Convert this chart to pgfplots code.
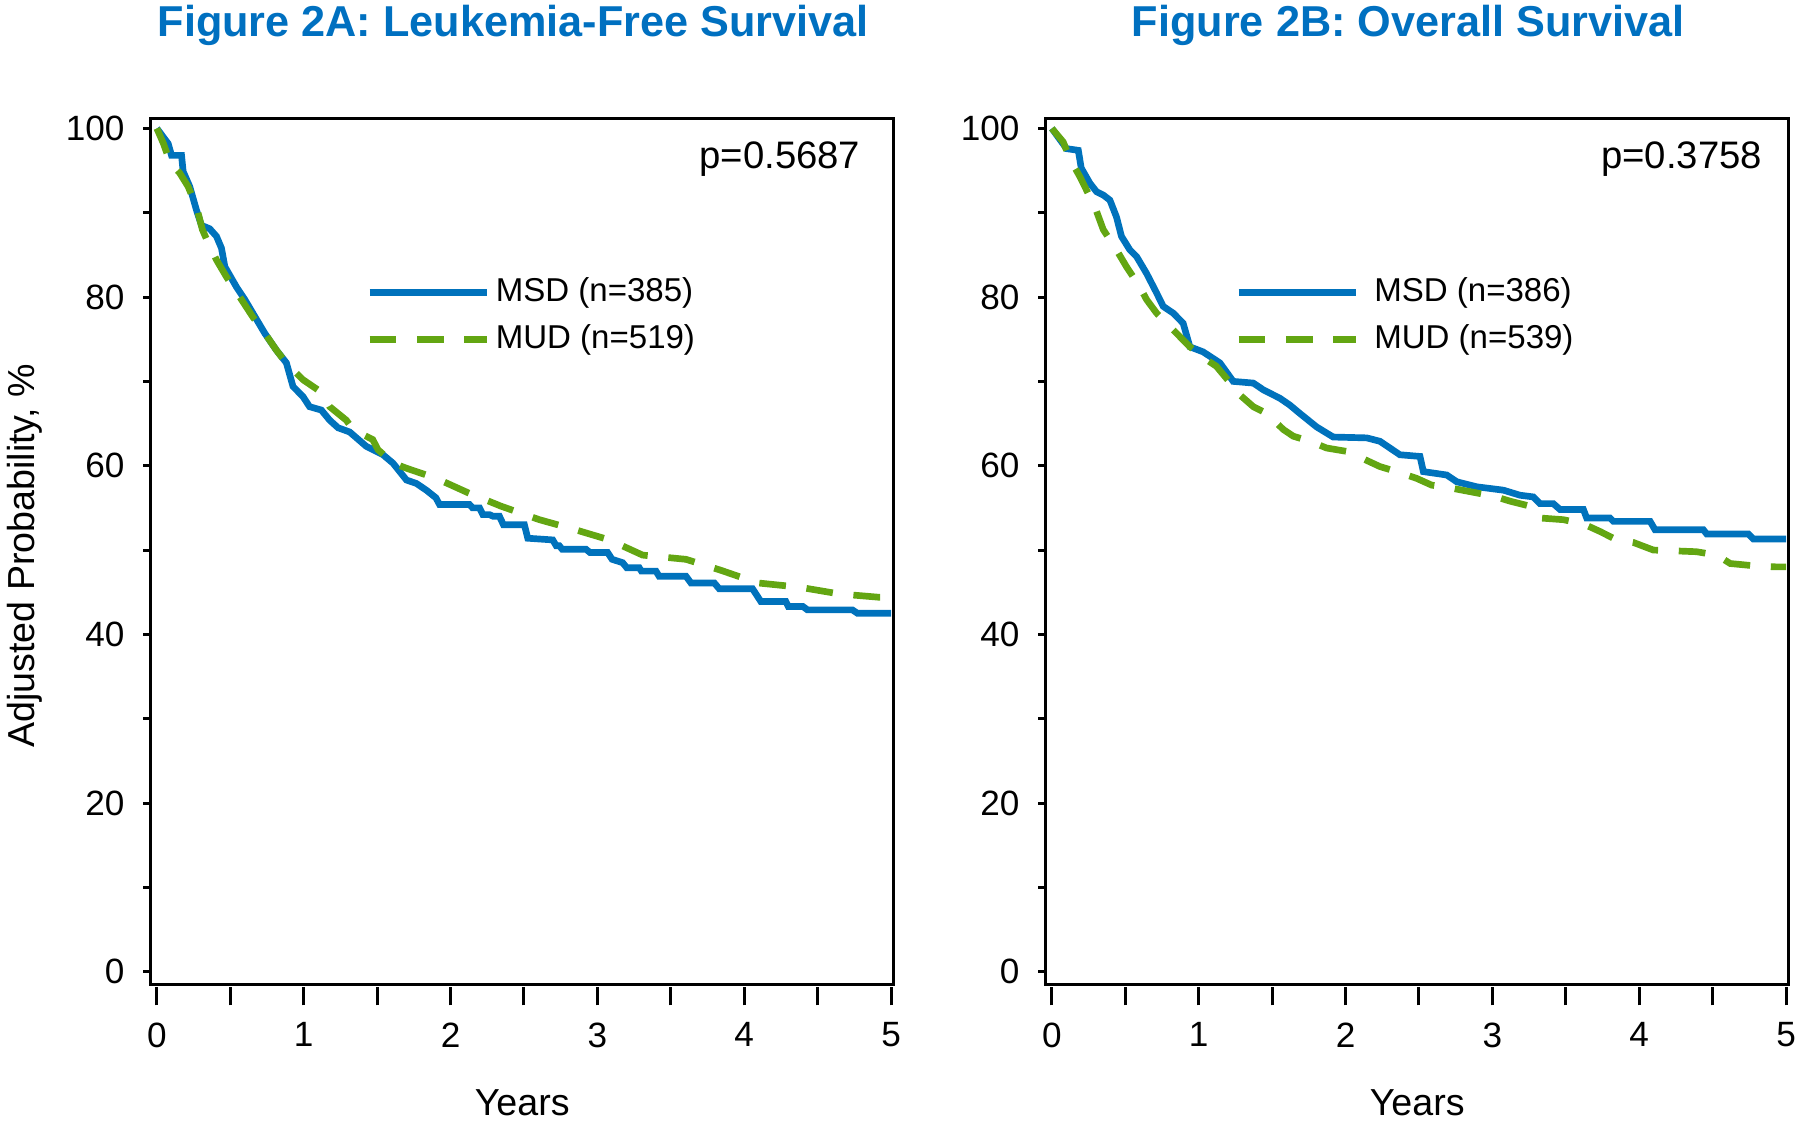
\documentclass[border=0pt]{standalone}
\usepackage{pgfplots}
\usepackage{pgfplotstable}
\pgfplotsset{compat=1.18}
\usepackage{fontspec}
\setmainfont{Liberation Sans}

\definecolor{msdblue}{RGB}{0,114,188}
\definecolor{mudgreen}{RGB}{99,166,18}
\definecolor{titleblue}{RGB}{0,112,192}

% Figure 2A, leukemia-free survival (years, adjusted %)
\pgfplotstableread{
t v
0 100
0.077 98.2
0.1 96.8
0.168 96.8
0.179 94.9
0.224 93.1
0.27 90.3
0.304 88.5
0.36 88.1
0.406 87.2
0.44 85.8
0.463 83.6
0.542 81.2
0.599 79.7
0.667 77.7
0.735 75.7
0.814 73.7
0.882 72.2
0.927 69.4
0.995 68.2
1.04 67.0
1.12 66.6
1.177 65.4
1.234 64.5
1.313 64.0
1.426 62.3
1.54 61.3
1.608 60.3
1.70 58.3
1.767 57.9
1.835 57.1
1.90 56.2
1.925 55.4
2.129 55.4
2.15 55.0
2.197 55.0
2.22 54.2
2.265 54.2
2.29 54.0
2.333 54.0
2.36 53.0
2.503 53.0
2.526 51.4
2.696 51.2
2.72 50.5
2.741 50.5
2.76 50.1
2.922 50.1
2.95 49.7
3.070 49.7
3.10 48.9
3.172 48.5
3.20 47.9
3.285 47.9
3.30 47.5
3.399 47.5
3.42 46.9
3.603 46.9
3.637 46.1
3.796 46.1
3.830 45.4
4.057 45.4
4.113 43.9
4.283 43.9
4.30 43.3
4.40 43.3
4.431 42.9
4.737 42.9
4.771 42.5
5.0 42.5
}\lfsmsd

\pgfplotstableread{
t v
0 100
0.045 98.2
0.09 96.0
0.156 94.7
0.213 93.1
0.27 90.7
0.31 88.0
0.35 86.4
0.406 84.4
0.474 82.4
0.565 80.0
0.655 77.6
0.72 76.1
0.814 73.7
0.88 72.2
0.995 70.2
1.13 68.6
1.177 67.0
1.29 65.4
1.336 64.3
1.47 63.1
1.506 61.9
1.61 60.3
1.70 59.7
1.903 58.5
2.118 56.8
2.344 55.2
2.605 53.6
2.832 52.5
3.082 51.2
3.308 49.4
3.603 48.9
3.841 47.6
4.091 46.1
4.374 45.6
4.646 44.8
4.918 44.4
5.0 44.4
}\lfsmud

% Figure 2B, overall survival
\pgfplotstableread{
t v
0 100
0.1 97.6
0.18 97.4
0.20 95.3
0.259 93.5
0.304 92.5
0.35 92.1
0.395 91.5
0.44 89.5
0.474 87.2
0.531 85.6
0.577 84.8
0.645 82.8
0.713 80.5
0.758 78.9
0.826 78.1
0.894 76.9
0.94 74.1
1.03 73.5
1.144 72.2
1.235 70.0
1.372 69.8
1.44 69.0
1.553 68.0
1.62 67.2
1.689 66.2
1.803 64.6
1.916 63.4
2.144 63.3
2.234 62.9
2.302 62.1
2.370 61.3
2.507 61.1
2.530 59.3
2.689 58.9
2.757 58.1
2.893 57.5
3.075 57.1
3.188 56.5
3.279 56.3
3.324 55.5
3.415 55.5
3.461 54.8
3.620 54.8
3.642 53.8
3.801 53.8
3.824 53.4
4.074 53.4
4.108 52.4
4.437 52.4
4.460 51.9
4.744 51.9
4.778 51.3
5.0 51.3
}\osmsd

\pgfplotstableread{
t v
0 100
0.077 98.4
0.123 96.4
0.19 94.3
0.247 92.3
0.293 90.7
0.35 88.0
0.44 85.6
0.508 83.6
0.599 81.2
0.645 79.7
0.713 78.1
0.781 76.9
0.872 75.3
0.94 74.1
1.05 72.6
1.12 71.8
1.235 69.4
1.28 68.4
1.372 67.0
1.462 66.2
1.576 64.3
1.644 63.5
1.757 62.9
1.871 62.1
2.007 61.7
2.11 60.9
2.234 59.9
2.348 59.3
2.484 58.5
2.586 57.7
2.734 57.3
3.006 56.4
3.12 55.8
3.256 55.2
3.324 53.8
3.483 53.6
3.62 53.1
3.733 52.2
3.835 51.3
3.96 50.9
4.096 50.0
4.39 49.8
4.528 49.4
4.62 48.4
4.80 48.1
4.937 48.0
5.0 48.0
}\osmud

\pgfplotsset{
  panel/.style={
    scale only axis, width=7.43cm, height=8.66cm,
    xmin=-0.042, xmax=5.018, ymin=-1.5, ymax=101.2,
    /pgf/number format/assume math mode=true,
    ticklabel style={font=\fontsize{10}{12}\selectfont},
    tick style={black, line width=0.85pt},
  },
  frameaxis/.style={
    panel,
    axis line style={line width=0.9pt},
    xtick=\empty,
    ytick={0,20,...,100}, minor ytick={10,30,...,90},
    ytick pos=left, tick align=outside,
    major tick length=0.075cm, minor tick length=0.075cm,
    yticklabel style={anchor=east, inner sep=0pt, xshift=-0.18cm},
    title style={at={(axis description cs:0.5,1)}, anchor=base, inner sep=0pt,
      yshift=0.612cm, xshift=-0.09cm, text=titleblue,
      font=\fontsize{12.3}{14}\selectfont\bfseries},
    legend cell align=left,
    legend style={draw=none, fill=none, inner sep=0pt, outer sep=0pt,
      row sep=0.18cm, anchor=north west,
      nodes={inner sep=0pt, font=\fontsize{9.4}{11}\selectfont}},
    legend image code/.code={\draw[##1, line width=1.9pt] (0cm,0cm) -- (1.17cm,0cm);},
  },
  tickaxis/.style={
    panel,
    axis line style={draw=none},
    ytick=\empty,
    xtick={0,...,5}, minor xtick={0.5,1.5,...,4.5},
    xtick pos=bottom, tick align=outside,
    major tick length=0.18cm, minor tick length=0.18cm,
    tick style={yshift=-0.03cm},
    xticklabel style={anchor=north, inner sep=0pt, yshift=-0.197cm},
    xlabel={Years},
    xlabel style={at={(axis description cs:0.5,-0.152)}, anchor=base,
      inner sep=0pt, font=\fontsize{10.7}{12}\selectfont},
  },
  msd/.style={msdblue, line width=1.9pt},
  mud/.style={mudgreen, line width=1.9pt, dash pattern=on 7.6pt off 5.9pt},
}

\begin{document}
\begin{tikzpicture}
\useasboundingbox (0,0) rectangle (18cm,11.22cm);

% ---- Figure 2A
\begin{axis}[frameaxis, at={(1.507cm,1.377cm)}, anchor=south west,
  title={Figure 2A: Leukemia-Free Survival},
  ylabel={Adjusted Probability, \%},
  ylabel style={at={(axis description cs:-0.157,0.495)}, anchor=base,
    inner sep=0pt, font=\fontsize{10.7}{12}\selectfont},
  legend style={at={(0.290,0.816)}, column sep=0.06cm},
]
  \addplot[msd] table[x=t, y=v] {\lfsmsd};
  \addplot[mud] table[x=t, y=v] {\lfsmud};
  \legend{MSD (n=385), MUD (n=519)}
  \node[anchor=base east, inner sep=0pt, font=\fontsize{10.9}{12}\selectfont]
    at (rel axis cs:0.956,0.942) {p=0.5687};
\end{axis}
\begin{axis}[tickaxis, at={(1.507cm,1.377cm)}, anchor=south west]
\end{axis}

% ---- Figure 2B
\begin{axis}[frameaxis, at={(10.457cm,1.377cm)}, anchor=south west,
  title={Figure 2B: Overall Survival},
  legend style={at={(0.255,0.816)}, column sep=0.155cm},
]
  \addplot[msd] table[x=t, y=v] {\osmsd};
  \addplot[mud] table[x=t, y=v] {\osmud};
  \legend{MSD (n=386), MUD (n=539)}
  \node[anchor=base east, inner sep=0pt, font=\fontsize{10.9}{12}\selectfont]
    at (rel axis cs:0.965,0.942) {p=0.3758};
\end{axis}
\begin{axis}[tickaxis, at={(10.457cm,1.377cm)}, anchor=south west]
\end{axis}
\end{tikzpicture}
\end{document}
